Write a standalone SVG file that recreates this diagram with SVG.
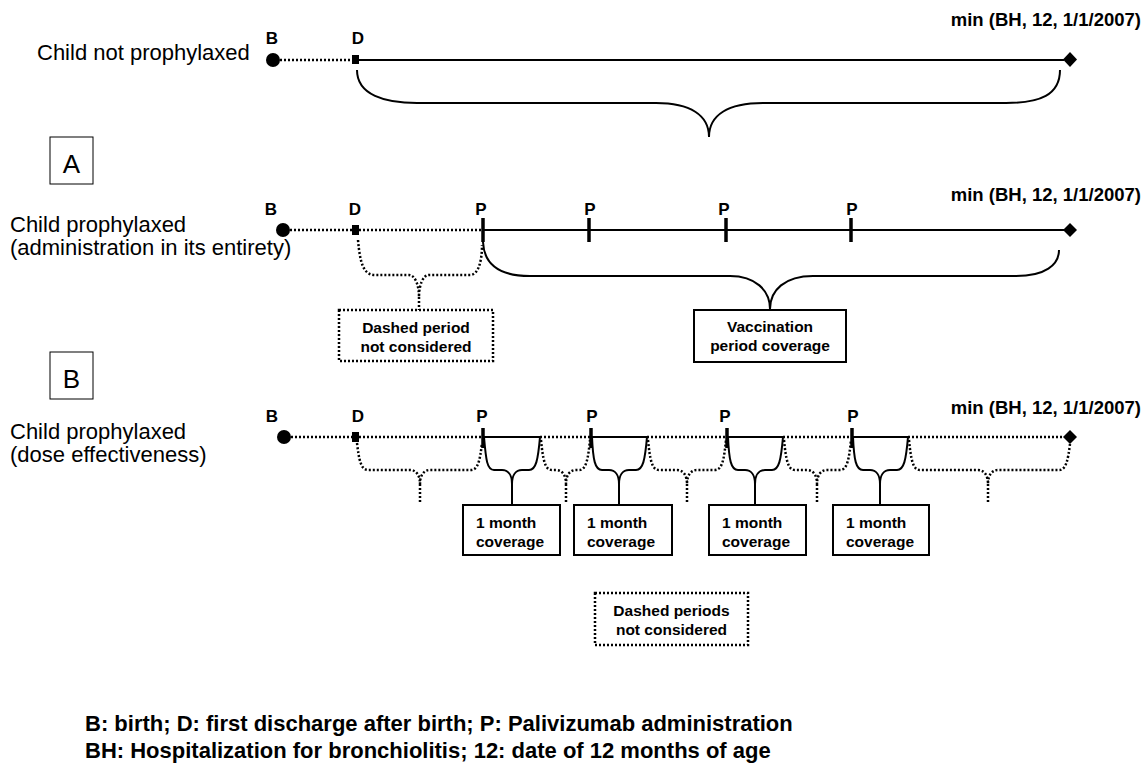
<svg xmlns="http://www.w3.org/2000/svg" width="1143" height="767" viewBox="0 0 1143 767">
<style>
.t{font-family:"Liberation Sans",Arial,sans-serif;fill:#000}
.reg{font-size:22px}
.lbl{font-size:17px;font-weight:bold;text-anchor:middle}
.end{font-size:18.5px;font-weight:bold;text-anchor:end}
.bx{font-size:15.5px;font-weight:bold}
.leg{font-size:22px;font-weight:bold}
.solid{fill:none;stroke:#000;stroke-width:2}
.dot{fill:none;stroke:#000;stroke-width:2.5;stroke-dasharray:2 2}
.tick{stroke:#000;stroke-width:3.5}
.box{fill:#fff;stroke:#000;stroke-width:2}
.dbox{fill:#fff;stroke:#000;stroke-width:2.5;stroke-dasharray:2 2}
.sec{fill:#fff;stroke:#000;stroke-width:1}
</style>
<rect width="1143" height="767" fill="#fff"/>

<!-- Row 0 -->
<g id="row0-label"><text class="t reg" x="37" y="60">Child not prophylaxed</text></g>
<g id="row0-B"><circle cx="273" cy="60" r="7"/><text class="t lbl" x="272" y="44">B</text></g>
<g id="row0-D"><rect x="352" y="55" width="7" height="9"/><text class="t lbl" x="358" y="44">D</text></g>
<g id="row0-end"><path d="M1070,52 L1077,59.5 L1070,67 L1063,59.5 Z"/><text class="t end" x="1141" y="26">min (BH, 12, 1/1/2007)</text></g>

<!-- Section A -->
<g id="secA"><rect class="sec" x="50" y="137" width="43" height="47"/><text class="t" x="71.5" y="173" font-size="26" text-anchor="middle">A</text></g>
<g id="rowA-label"><text class="t reg" x="10" y="232">Child prophylaxed</text><text class="t reg" x="10" y="255">(administration in its entirety)</text></g>
<g id="rowA-B"><circle cx="283" cy="230" r="7"/><text class="t lbl" x="271" y="215">B</text></g>
<g id="rowA-D"><rect x="352" y="225" width="7" height="10"/><text class="t lbl" x="355" y="215">D</text></g>
<g id="rowA-P1"><line class="tick" x1="483" y1="218" x2="483" y2="242"/><text class="t lbl" x="481" y="215">P</text></g>
<g id="rowA-P2"><line class="tick" x1="589" y1="218" x2="589" y2="242"/><text class="t lbl" x="590" y="215">P</text></g>
<g id="rowA-P3"><line class="tick" x1="726" y1="218" x2="726" y2="242"/><text class="t lbl" x="724" y="215">P</text></g>
<g id="rowA-P4"><line class="tick" x1="851" y1="218" x2="851" y2="242"/><text class="t lbl" x="852" y="215">P</text></g>
<g id="rowA-end"><path d="M1070,223 L1077,230 L1070,237 L1063,230 Z"/><text class="t end" x="1141" y="201">min (BH, 12, 1/1/2007)</text></g>
<g id="rowA-dashed-box"><rect class="dbox" x="339" y="310" width="154" height="51"/><text class="t bx" x="416" y="333" text-anchor="middle">Dashed period</text><text class="t bx" x="416" y="352" text-anchor="middle">not considered</text></g>
<g id="rowA-vacc-box"><rect class="box" x="694" y="310" width="152" height="52"/><text class="t bx" x="770" y="332" text-anchor="middle">Vaccination</text><text class="t bx" x="770" y="351" text-anchor="middle">period coverage</text></g>

<!-- Section B -->
<g id="secB"><rect class="sec" x="50" y="352" width="43" height="47"/><text class="t" x="71.5" y="388" font-size="26" text-anchor="middle">B</text></g>
<g id="rowB-label"><text class="t reg" x="10" y="439">Child prophylaxed</text><text class="t reg" x="10" y="462">(dose effectiveness)</text></g>
<g id="rowB-B"><circle cx="284" cy="437" r="7"/><text class="t lbl" x="272" y="422">B</text></g>
<g id="rowB-D"><rect x="352" y="432" width="7" height="10"/><text class="t lbl" x="358" y="422">D</text></g>
<g id="rowB-P1"><line class="tick" x1="483" y1="428" x2="483" y2="448"/><text class="t lbl" x="482" y="422">P</text></g>
<g id="rowB-P2"><line class="tick" x1="591" y1="428" x2="591" y2="448"/><text class="t lbl" x="592" y="422">P</text></g>
<g id="rowB-P3"><line class="tick" x1="727" y1="428" x2="727" y2="448"/><text class="t lbl" x="725" y="422">P</text></g>
<g id="rowB-P4"><line class="tick" x1="852" y1="428" x2="852" y2="448"/><text class="t lbl" x="853" y="422">P</text></g>
<g id="rowB-end"><path d="M1070,430 L1077,437 L1070,444 L1063,437 Z"/><text class="t end" x="1141" y="414">min (BH, 12, 1/1/2007)</text></g>
<g id="rowB-box1"><rect class="box" x="463" y="505" width="97" height="50"/><text class="t bx" x="476" y="528">1 month</text><text class="t bx" x="476" y="547">coverage</text></g>
<g id="rowB-box2"><rect class="box" x="574" y="505" width="98" height="50"/><text class="t bx" x="587" y="528">1 month</text><text class="t bx" x="587" y="547">coverage</text></g>
<g id="rowB-box3"><rect class="box" x="709" y="505" width="97" height="50"/><text class="t bx" x="722" y="528">1 month</text><text class="t bx" x="722" y="547">coverage</text></g>
<g id="rowB-box4"><rect class="box" x="833" y="505" width="96" height="50"/><text class="t bx" x="846" y="528">1 month</text><text class="t bx" x="846" y="547">coverage</text></g>
<g id="rowB-dashed-box"><rect class="dbox" x="595" y="593" width="153" height="52"/><text class="t bx" x="671.5" y="616" text-anchor="middle">Dashed periods</text><text class="t bx" x="671.5" y="635" text-anchor="middle">not considered</text></g>

<!-- Legend -->
<g id="legend"><text class="t leg" x="85" y="731">B: birth; D: first discharge after birth; P: Palivizumab administration</text><text class="t leg" x="85" y="758">BH: Hospitalization for bronchiolitis; 12: date of 12 months of age</text></g>

<!-- Connectors -->
<g id="connectors">
<line class="dot" x1="280" y1="60" x2="352" y2="60"/>
<line class="solid" x1="359" y1="60" x2="1064" y2="60"/>
<path class="solid" d="M357,70 C357,95 385,103 417,103 L656,103 C690,103 709,115 709,137 C709,115 728,103 763,103 L1006,103 C1040,103 1060,95 1060,70"/>

<line class="dot" x1="290" y1="230" x2="352" y2="230"/>
<line class="dot" x1="359" y1="230" x2="482" y2="230"/>
<line class="solid" x1="483" y1="230" x2="1064" y2="230"/>
<path class="dot" d="M358,240 C360,262 363,275 375,275 L409,275 C415,275 419,285 419,297 C419,285 423,275 429,275 L470,275 C478,275 482,262 482,245"/>
<line class="dot" x1="419" y1="297" x2="419" y2="310"/>
<path class="solid" d="M483,242 C484,265 500,276 530,276 L730,276 C755,276 770,290 770,309 C770,290 785,276 813,276 L1016,276 C1045,276 1059,265 1059,250"/>

<line class="dot" x1="291" y1="437" x2="352" y2="437"/>
<line class="dot" x1="359" y1="437" x2="483" y2="437"/>
<line class="solid" x1="483" y1="437" x2="540" y2="437"/>
<line class="dot" x1="540" y1="437" x2="591" y2="437"/>
<line class="solid" x1="591" y1="437" x2="647" y2="437"/>
<line class="dot" x1="647" y1="437" x2="727" y2="437"/>
<line class="solid" x1="727" y1="437" x2="783" y2="437"/>
<line class="dot" x1="783" y1="437" x2="852" y2="437"/>
<line class="solid" x1="852" y1="437" x2="908" y2="437"/>
<line class="dot" x1="908" y1="437" x2="1064" y2="437"/>

<path class="solid" d="M484,437 C486,460 487,470 494,470 L502,470 C508,470 512,475 512,484 C512,475 516,470 522,470 L529,470 C536,470 538,460 540,437"/>
<path class="solid" d="M592,437 C593,460 595,470 602,470 L609,470 C615,470 619,475 619,484 C619,475 623,470 629,470 L636,470 C643,470 645,460 647,437"/>
<path class="solid" d="M728,437 C729,460 731,470 738,470 L745,470 C751,470 755,475 755,484 C755,475 759,470 765,470 L772,470 C779,470 781,460 783,437"/>
<path class="solid" d="M853,437 C854,460 856,470 863,470 L870,470 C876,470 880,475 880,484 C880,475 884,470 890,470 L897,470 C904,470 906,460 908,437"/>
<line class="solid" x1="512" y1="484" x2="512" y2="505"/>
<line class="solid" x1="619" y1="484" x2="619" y2="505"/>
<line class="solid" x1="755" y1="484" x2="755" y2="505"/>
<line class="solid" x1="880" y1="484" x2="880" y2="505"/>

<path class="dot" d="M357,443 C359,460 361,470 368,470 L410,470 C416,470 420,475 420,484 C420,475 424,470 430,470 L471,470 C478,470 480,460 482,443"/>
<path class="dot" d="M541,440 C543,460 545,470 552,470 L556,470 C562,470 566,475 566,484 C566,475 570,470 576,470 L579,470 C586,470 588,460 590,440"/>
<path class="dot" d="M648,440 C650,460 652,470 659,470 L677,470 C683,470 687,475 687,484 C687,475 691,470 697,470 L715,470 C722,470 724,460 726,440"/>
<path class="dot" d="M784,440 C786,460 788,470 795,470 L807,470 C813,470 817,475 817,484 C817,475 821,470 827,470 L840,470 C847,470 849,460 851,440"/>
<path class="dot" d="M909,440 C911,460 913,470 920,470 L978,470 C984,470 988,475 988,484 C988,475 992,470 998,470 L1059,470 C1066,470 1068,460 1070,444"/>
<line class="dot" x1="420" y1="484" x2="420" y2="504"/>
<line class="dot" x1="566" y1="484" x2="566" y2="504"/>
<line class="dot" x1="687" y1="484" x2="687" y2="504"/>
<line class="dot" x1="817" y1="484" x2="817" y2="504"/>
<line class="dot" x1="988" y1="484" x2="988" y2="504"/>
</g>
</svg>
